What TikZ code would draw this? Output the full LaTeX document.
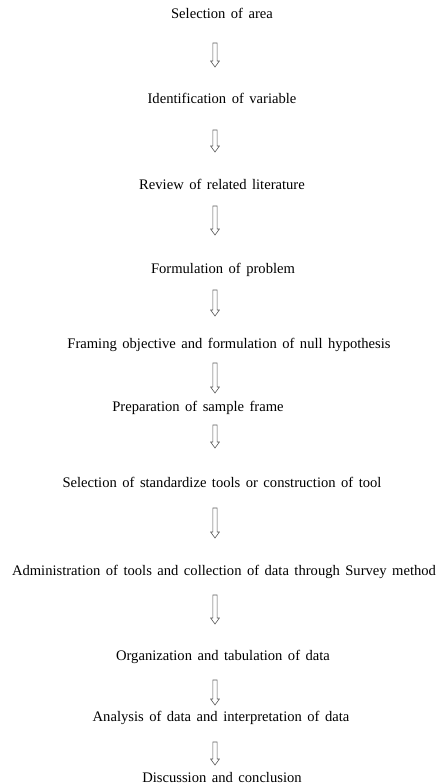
\documentclass[tikz,border=0pt]{standalone}
\usepackage{fontspec}
\setmainfont{Liberation Serif}[WordSpace=1.5]
\usetikzlibrary{calc}
\newcommand\stepfont{\fontsize{14.6bp}{17bp}\selectfont}
\tikzset{every picture/.style={line width=0.5bp}}
\tikzset{
  steptext/.style={font=\stepfont, inner sep=0pt, text=black},
  % hollow block arrow between two points, #1/#2 = gaps at start/end
  flow/.style 2 args={draw=black!65, line width=0.6bp, to path={
      let \p1=(\tikztostart), \p2=(\tikztotarget) in
      (\x1-2.1bp,\y1-#1bp) -- (\x1-2.1bp,\y2+#2bp+6bp) -- (\x1-4.4bp,\y2+#2bp+6bp)
      -- (\x1,\y2+#2bp) -- (\x1+4.4bp,\y2+#2bp+6bp) -- (\x1+2.1bp,\y2+#2bp+6bp)
      -- (\x1+2.1bp,\y1-#1bp) -- cycle}},
}
\begin{document}
\begin{tikzpicture}[x=1bp,y=-1bp]
    \useasboundingbox (0,0) rectangle (441,784);
    \coordinate (ax) at (215,0);
    \node[steptext] (s1) at (222,13) {Selection of area};
    \node[steptext] (s2) at (222,98) {Identification of variable};
    \node[steptext] (s3) at (222,184) {Review of related literature};
    \node[steptext] (s4) at (223,270) {Formulation of problem};
    \node[steptext] (s5) at (229,345) {Framing objective and formulation of null hypothesis};
    \node[steptext] (s6) at (198,408) {Preparation of sample frame};
    \node[steptext] (s7) at (222,482) {Selection of standardize tools or construction of tool};
    \node[steptext] (s8) at (224,572) {Administration of tools and collection of data through Survey method};
    \node[steptext] (s9) at (223,657) {Organization and tabulation of data};
    \node[steptext] (s10) at (221,718) {Analysis of data and interpretation of data};
    \node[steptext] (s11) at (222,777) {Discussion and conclusion};
    \draw[flow={30}{31}] (s1 -| ax) to (s2 -| ax);
    \draw[flow={32}{32}] (s2 -| ax) to (s3 -| ax);
    \draw[flow={22}{35}] (s3 -| ax) to (s4 -| ax);
    \draw[flow={20}{29}] (s4 -| ax) to (s5 -| ax);
    \draw[flow={18}{15}] (s5 -| ax) to (s6 -| ax);
    \draw[flow={17}{34}] (s6 -| ax) to (s7 -| ax);
    \draw[flow={26}{34}] (s7 -| ax) to (s8 -| ax);
    \draw[flow={23}{33}] (s8 -| ax) to (s9 -| ax);
    \draw[flow={23}{13}] (s9 -| ax) to (s10 -| ax);
    \draw[flow={24}{12}] (s10 -| ax) to (s11 -| ax);
\end{tikzpicture}
\end{document}
